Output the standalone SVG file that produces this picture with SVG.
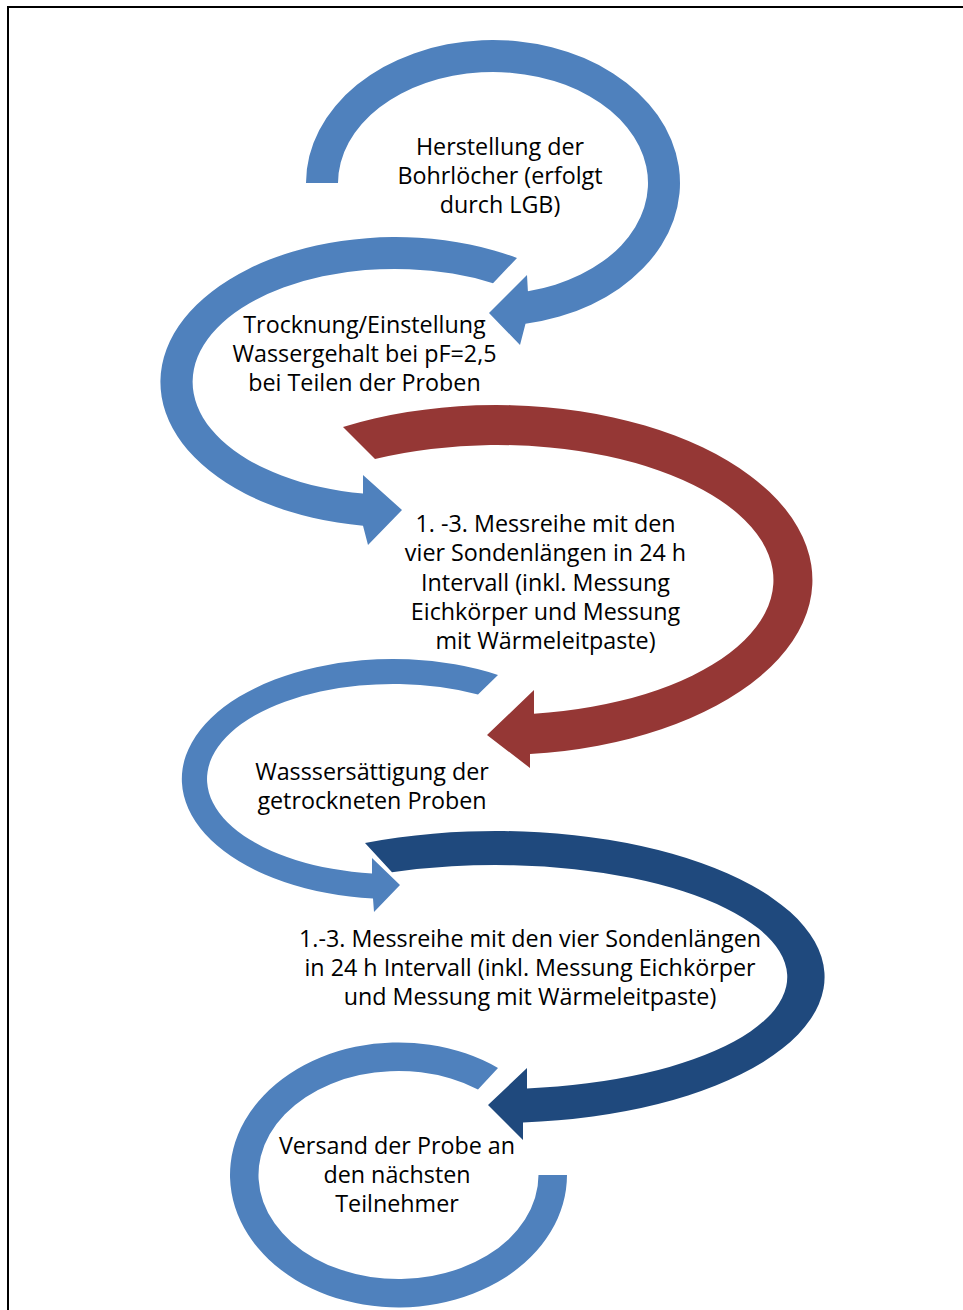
<svg xmlns="http://www.w3.org/2000/svg" width="963" height="1310" viewBox="0 0 963 1310">
<style>
.t{font-family:"Open Sans","Liberation Sans",sans-serif;font-size:23.3px;fill:#000;text-anchor:middle}
.b{fill:#4F81BD}
.r{fill:#953735}
.d{fill:#1F497D}
</style>
<rect x="0" y="0" width="963" height="1310" fill="#fff"/>
<path d="M8 1310 V7 H963" fill="none" stroke="#000" stroke-width="2"/>
<g id="step1">
<path class="b" d="M306 183 A187 143 0 1 1 525.5 323.8 L520 345 L489 313 L527 275 L527.9 291.2 A155 111 0 1 0 338 183 Z"/>
<text class="t"><tspan x="500" y="155">Herstellung der</tspan><tspan x="500" y="184">Bohrlöcher (erfolgt</tspan><tspan x="500" y="213">durch LGB)</tspan></text>
</g>
<g id="step2">
<path class="b" d="M517 258 A235 145 0 1 0 363 525.7 L368 545 L402 510 L363 475 L363 493.5 A202 113 0 1 1 493 283.2 Z"/>
<text class="t"><tspan x="364.5" y="333">Trocknung/Einstellung</tspan><tspan x="364.5" y="362">Wassergehalt bei pF=2,5</tspan><tspan x="364.5" y="391">bei Teilen der Proben</tspan></text>
</g>
<g id="step3">
<path class="r" d="M343 427 A316 175 0 1 1 530 754 L530 768 L487 735 L534 690 L534 713.8 A276 135 0 1 0 375 459 Z"/>
<text class="t"><tspan x="545.5" y="532">1. -3. Messreihe mit den</tspan><tspan x="545.5" y="561">vier Sondenlängen in 24 h</tspan><tspan x="545.5" y="591">Intervall (inkl. Messung</tspan><tspan x="545.5" y="620">Eichkörper und Messung</tspan><tspan x="545.5" y="649">mit Wärmeleitpaste)</tspan></text>
</g>
<g id="step4">
<path class="b" d="M498 675 A211 120 0 1 0 373 898.5 L374 912 L400 885 L372 858 L372 873.4 A186 95 0 1 1 478 694.5 Z"/>
<text class="t"><tspan x="372" y="780">Wasssersättigung der</tspan><tspan x="372" y="809">getrockneten Proben</tspan></text>
</g>
<g id="step5">
<path class="d" d="M365 843 A329 146 0 1 1 523 1122.5 L523 1140 L488 1105 L527 1068 L527 1088.4 A292 112 0 1 0 392 872.3 Z"/>
<text class="t"><tspan x="530" y="947">1.-3. Messreihe mit den vier Sondenlängen</tspan><tspan x="530" y="976">in 24 h Intervall (inkl. Messung Eichkörper</tspan><tspan x="530" y="1005">und Messung mit Wärmeleitpaste)</tspan></text>
</g>
<g id="step6">
<path class="b" d="M498 1068 A168.5 132.5 0 1 0 567 1175 L538.5 1175 A140 104 0 1 1 478 1089.4 Z"/>
<text class="t"><tspan x="397" y="1154">Versand der Probe an</tspan><tspan x="397" y="1183">den nächsten</tspan><tspan x="397" y="1212">Teilnehmer</tspan></text>
</g>
</svg>
